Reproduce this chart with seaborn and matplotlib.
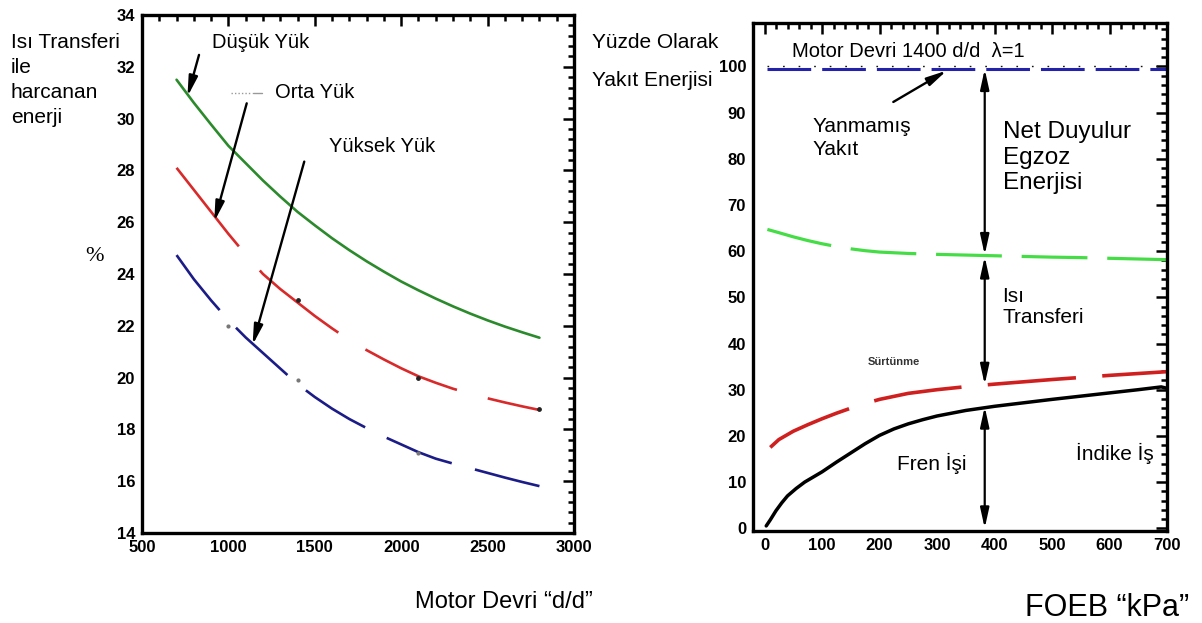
import matplotlib
matplotlib.use("Agg")
import matplotlib.pyplot as plt
from matplotlib.ticker import AutoMinorLocator
from matplotlib.lines import Line2D
import seaborn as sns
import pandas as pd

# ---- Sol grafik: motor devrine göre ısı transferi ile harcanan enerji (%) ----
devir = [700, 800, 900, 1000, 1100, 1200, 1300, 1400, 1500, 1600, 1700,
         1800, 1900, 2000, 2100, 2200, 2300, 2400, 2500, 2600, 2700, 2800]
dusuk_yuk = [31.5, 30.61, 29.77, 28.95, 28.28, 27.61, 26.99, 26.4, 25.88, 25.38, 24.92,
             24.49, 24.09, 23.71, 23.37, 23.05, 22.75, 22.47, 22.21, 21.97, 21.75, 21.54]
orta_yuk = [28.1, 27.25, 26.4, 25.55, 24.75, 24.0, 23.42, 22.9, 22.38, 21.9, 21.45,
            21.06, 20.7, 20.36, 20.05, 19.8, 19.57, 19.38, 19.2, 19.04, 18.89, 18.75]
yuksek_yuk = [24.73, 23.8, 22.98, 22.22, 21.55, 20.95, 20.35, 19.75, 19.25, 18.8, 18.4,
              18.05, 17.72, 17.42, 17.12, 16.87, 16.68, 16.5, 16.32, 16.14, 15.97, 15.81]

olcum_devir = [1400, 2100, 2800]
olcum_orta = [23.0, 20.0, 18.8]
olcum_yuksek_devir = [1000, 1400, 2100]
olcum_yuksek = [22.0, 19.9, 17.1]

# ---- Sag grafik: FOEB'e göre yakıt enerjisinin dağılımı (%) ----
yanmamis_x = [5, 700]
yanmamis_y = [99.5, 99.5]
egzoz_x = [5, 25, 50, 75, 100, 125, 150, 175, 200, 250, 300, 350, 400, 450, 500, 550,
           600, 650, 700]
egzoz_y = [64.7, 64.0, 63.1, 62.3, 61.6, 61.0, 60.5, 60.1, 59.8, 59.5, 59.3, 59.15, 59.0,
           58.85, 58.7, 58.6, 58.45, 58.3, 58.15]
indike_x = [10, 25, 50, 75, 100, 125, 150, 175, 200, 250, 300, 350, 400, 450, 500, 550,
            600, 650, 700]
indike_y = [17.5, 19.2, 21.0, 22.4, 23.7, 24.9, 26.0, 27.0, 27.9, 29.2, 30.0, 30.65, 31.2,
            31.7, 32.2, 32.65, 33.1, 33.5, 33.9]
fren_x = [3, 10, 20, 30, 40, 55, 70, 85, 100, 125, 150, 175, 200, 225, 250, 275, 300, 350,
          400, 450, 500, 550, 600, 650, 690, 700]
fren_y = [0.5, 1.8, 3.8, 5.5, 7.0, 8.6, 10.0, 11.1, 12.2, 14.3, 16.3, 18.3, 20.1, 21.5,
          22.6, 23.5, 24.3, 25.5, 26.4, 27.15, 27.9, 28.6, 29.3, 30.0, 30.6, 30.3]

sol_yticks = list(range(14, 35, 2))
sol_xticks = list(range(500, 3001, 500))
sag_yticks = list(range(0, 101, 10))
sag_xticks = list(range(0, 701, 100))

sns.set_theme(style="white")
plt.rcParams["font.family"] = ["Liberation Sans", "DejaVu Sans"]
plt.rcParams["text.color"] = "black"

W, H = 1202, 623
fig = plt.figure(figsize=(W / 100, H / 100), dpi=100)
fig.patch.set_facecolor("white")


def px_axes(x0, y0, x1, y1):
    return fig.add_axes([x0 / W, 1 - y1 / H, (x1 - x0) / W, (y1 - y0) / H])


def style_axes(ax):
    for s in ax.spines.values():
        s.set_linewidth(2.4)
        s.set_color("black")
    ax.tick_params(which="both", direction="in", top=True, right=True,
                   colors="black", labelcolor="black", width=1.8)
    ax.tick_params(which="major", length=8, pad=5)
    ax.tick_params(which="minor", length=4)
    for lab in ax.get_xticklabels() + ax.get_yticklabels():
        lab.set_fontweight("bold")
        lab.set_fontsize(12)
    ax.set_xlabel("")
    ax.set_ylabel("")
    ax.grid(False)


def dashed(ax, pattern):
    ax.lines[-1].set_dashes(pattern)


# ================= Sol grafik =================
ax1 = px_axes(142, 15, 574, 533)
df_sol = pd.DataFrame({"devir": devir, "dusuk": dusuk_yuk, "orta": orta_yuk, "yuksek": yuksek_yuk})

sns.lineplot(data=df_sol, x="devir", y="dusuk", ax=ax1, color="#2b8a2b", lw=1.9, sort=False)
sns.lineplot(data=df_sol, x="devir", y="orta", ax=ax1, color="#d82a2a", lw=1.9, sort=False)
dashed(ax1, (38, 12.1))
sns.lineplot(data=df_sol, x="devir", y="yuksek", ax=ax1, color="#1c1c88", lw=1.9, sort=False)
dashed(ax1, (26.5, 9.1))

ax1.scatter(olcum_devir, olcum_orta, s=6, color="#222222", zorder=5)
ax1.scatter(olcum_yuksek_devir, olcum_yuksek, s=4, color="#777777", zorder=5)

ax1.set_xlim(500, 3000)
ax1.set_ylim(14, 34)
ax1.set_xticks(sol_xticks)
ax1.set_yticks(sol_yticks)
ax1.xaxis.set_minor_locator(AutoMinorLocator(5))
ax1.yaxis.set_minor_locator(AutoMinorLocator(5))
style_axes(ax1)

ok = dict(arrowstyle="-|>,head_length=1.0,head_width=0.22", color="black", lw=1.7,
          shrinkA=0, shrinkB=0)
ax1.text(905, 32.95, "Düşük Yük", fontsize=14.5, va="center", ha="left")
ax1.annotate("", xy=(763, 30.85), xytext=(830, 32.46), arrowprops=ok)
ax1.text(1272, 31.0, "Orta Yük", fontsize=14.5, va="center", ha="left")
ax1.add_line(Line2D([0.206, 0.255], [0.849, 0.849], transform=ax1.transAxes,
                    color="#999999", lw=1.0, ls=(0, (1, 1.5))))
ax1.add_line(Line2D([0.258, 0.278], [0.849, 0.849], transform=ax1.transAxes,
                    color="#999999", lw=1.0))
ax1.annotate("", xy=(918, 26.02), xytext=(1106, 30.59), arrowprops=ok)
ax1.text(1582, 28.92, "Yüksek Yük", fontsize=14.5, va="center", ha="left")
ax1.annotate("", xy=(1140, 21.26), xytext=(1439, 28.34), arrowprops=ok)

# Eksen dışındaki açıklamalar
for i, satir in enumerate(["Isı Transferi", "ile", "harcanan", "enerji"]):
    fig.text(11 / W, 1 - (42 + 25.3 * i) / H, satir, fontsize=15, va="center", ha="left")
fig.text(94 / W, 1 - 257 / H, "%", fontsize=16, va="center", ha="center",
         family=["Liberation Serif", "DejaVu Serif"])
fig.text(504 / W, 1 - 602 / H, "Motor Devri “d/d”", fontsize=17, va="center", ha="center")

# ================= Sag grafik =================
ax2 = px_axes(753, 23, 1167, 531)

sns.lineplot(x=yanmamis_x, y=yanmamis_y, ax=ax2, color="#2222aa", lw=2.2)
dashed(ax2, (14.3, 3.6))
sns.lineplot(x=yanmamis_x, y=[v + 0.6 for v in yanmamis_y], ax=ax2, color="#111111", lw=1.0)
dashed(ax2, (1.2, 10))
sns.lineplot(x=egzoz_x, y=egzoz_y, ax=ax2, color="#45dd45", lw=2.3, sort=False)
dashed(ax2, (20.6, 6.2))
sns.lineplot(x=indike_x, y=indike_y, ax=ax2, color="#cf1f1f", lw=2.6, sort=False)
dashed(ax2, (24.5, 7.3))
sns.lineplot(x=fren_x, y=fren_y, ax=ax2, color="black", lw=2.5, sort=False)

ax2.set_xlim(-20, 700)
ax2.set_ylim(-0.6, 109.4)
ax2.set_xticks(sag_xticks)
ax2.set_yticks(sag_yticks)
ax2.xaxis.set_minor_locator(AutoMinorLocator(5))
ax2.yaxis.set_minor_locator(AutoMinorLocator(5))
style_axes(ax2)

cift = dict(arrowstyle="<|-|>,head_length=1.0,head_width=0.22", color="black", lw=1.6,
            shrinkA=0, shrinkB=0)
xo = 383
ax2.annotate("", xy=(xo, 99.4), xytext=(xo, 59.2), arrowprops=cift)
ax2.annotate("", xy=(xo, 58.8), xytext=(xo, 31.1), arrowprops=cift)
ax2.annotate("", xy=(xo, 26.3), xytext=(xo, 0.0), arrowprops=cift)
ax2.annotate("", xy=(317, 99.1), xytext=(224, 92.3), arrowprops=ok)

ax2.text(47, 103.2, "Motor Devri 1400 d/d  λ=1", fontsize=14.5, va="center", ha="left")
ax2.text(84, 84.5, "Yanmamış\nYakıt", fontsize=15, va="center", ha="left", linespacing=1.25)
ax2.text(414, 80.2, "Net Duyulur\nEgzoz\nEnerjisi", fontsize=17.5, va="center", ha="left",
         linespacing=1.2)
ax2.text(414, 47.9, "Isı\nTransferi", fontsize=15, va="center", ha="left", linespacing=1.1)
ax2.text(180, 36.0, "Sürtünme", fontsize=8, va="center", ha="left", color="#333333",
         fontweight="bold")
ax2.text(291, 14.0, "Fren İşi", fontsize=15, va="center", ha="center")
ax2.text(609, 16.2, "İndike İş", fontsize=15, va="center", ha="center")

fig.text(592 / W, 1 - 42 / H, "Yüzde Olarak", fontsize=15, va="center", ha="left")
fig.text(592 / W, 1 - 80 / H, "Yakıt Enerjisi", fontsize=15, va="center", ha="left")
fig.text(1189 / W, 1 - 608 / H, "FOEB “kPa”", fontsize=22, va="center", ha="right")

fig.savefig("out.png", dpi=100, facecolor="white")
